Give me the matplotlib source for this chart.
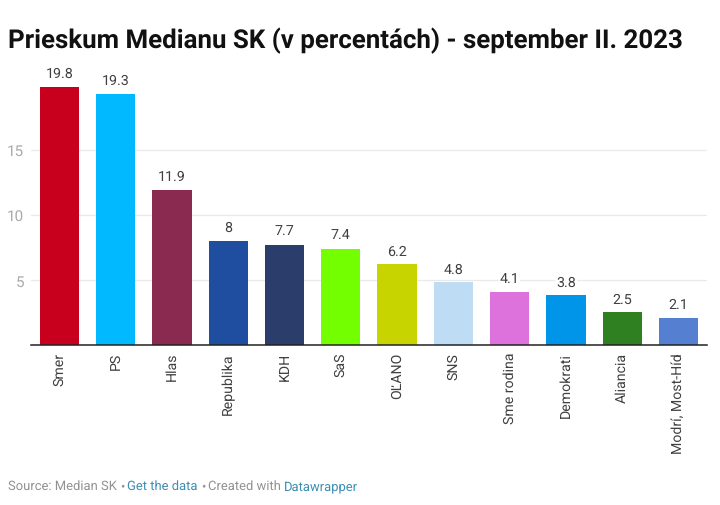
import matplotlib
matplotlib.use("Agg")
import matplotlib.pyplot as plt

plt.rcParams['font.family'] = ['Roboto', 'DejaVu Sans']
plt.rcParams['text.hinting'] = 'no_hinting'

parties = ["Smer", "PS", "Hlas", "Republika", "KDH", "SaS", "OĽANO", "SNS",
           "Sme rodina", "Demokrati", "Aliancia", "Modrí, Most-Híd"]
values = [19.8, 19.3, 11.9, 8, 7.7, 7.4, 6.2, 4.8, 4.1, 3.8, 2.5, 2.1]
colors = ["#c8001e", "#00b9ff", "#8a2a50", "#1f4ea1", "#2b3e6b", "#74ff00",
          "#c8d400", "#bfdcf5", "#dd72dc", "#0095e8", "#2e8020", "#5580d2"]
yticks = [5, 10, 15]

W, H = 720, 506
fig = plt.figure(figsize=(W / 100, H / 100), dpi=100)
ax = fig.add_axes([31 / W, 1 - 346 / H, 676 / W, 258 / H])

x = range(len(parties))
ax.bar(x, values, width=0.7, color=colors, zorder=2)
ax.set_xlim(-0.503, 11.505)
ax.set_ylim(0, 19.8)

# value labels above the bars
for i, v in zip(x, values):
    ax.annotate(str(v), (i, v), xytext=(0, 5), textcoords="offset points",
                ha="center", va="bottom", fontsize=10.3, color="#404040", zorder=1,
                bbox=dict(facecolor="white", edgecolor="none", pad=0.5))

ax.set_yticks(yticks)
ax.set_yticklabels([str(t) for t in yticks], fontsize=11, color="#aaaaaa")
ax.tick_params(axis="y", length=0, pad=5)
ax.grid(axis="y", color="#e9e9e9", linewidth=0.9, zorder=0)
ax.set_axisbelow(True)

ax.set_xticks(list(x))
ax.set_xticklabels(parties, rotation=90, fontsize=10.2, color="#404040")
ax.tick_params(axis="x", length=0, pad=5)

for side in ["top", "right", "left"]:
    ax.spines[side].set_visible(False)
ax.spines["bottom"].set_color("#222222")
ax.spines["bottom"].set_linewidth(1.1)
ax.spines["bottom"].set_zorder(3)

fig.text(8 / W, 1 - 40.5 / H, "Prieskum Medianu SK (v percentách) - september II. 2023",
         fontsize=18.6, fontweight="bold", color="#111111", va="center", ha="left")

# footer is split up because of the link colours
gray = "#929292"
blue = "#3c8fb3"
fy = 1 - 490 / H
fig.text(8 / W, fy, "Source: Median SK", fontsize=9.4, color=gray, va="baseline")
fig.text(120 / W, fy, "•", fontsize=9.4, color=gray, va="baseline")
fig.text(127 / W, fy, "Get the data", fontsize=9.4, color=blue, va="baseline")
fig.text(201 / W, fy, "•", fontsize=9.4, color=gray, va="baseline")
fig.text(208 / W, fy, "Created with", fontsize=9.4, color=gray, va="baseline")
fig.text(283.5 / W, fy, "Datawrapper", fontsize=9.4, color=blue, va="baseline")

fig.savefig("out.png", dpi=100)
